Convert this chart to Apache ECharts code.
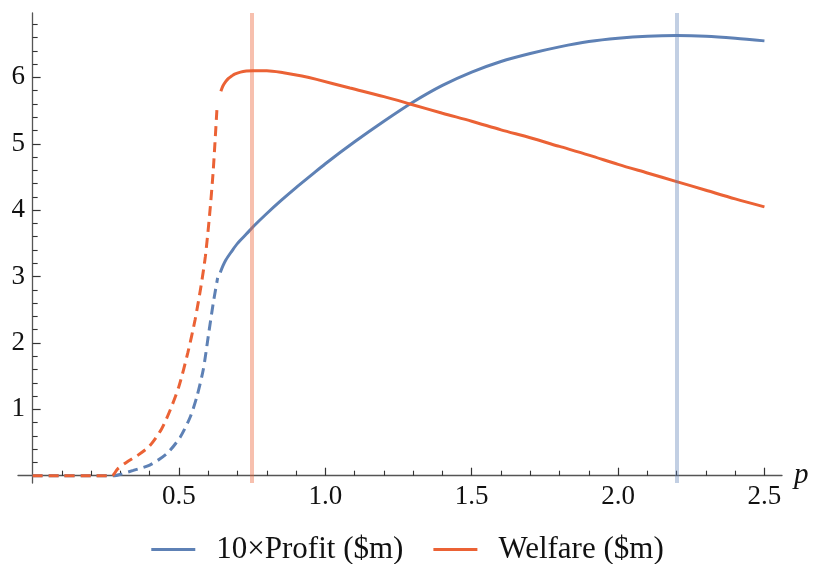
<!DOCTYPE html>
<html>
<head>
<meta charset="utf-8">
<script src="https://cdn.jsdelivr.net/npm/echarts@6/dist/echarts.min.js"></script>
<style>
  html, body { margin: 0; padding: 0; background: #fff; }
  #chart { width: 815px; height: 564px; }
</style>
</head>
<body>
<div id="chart"></div>
<script>
// p values and curves
const profitDashed = [
  [0, 0], [0.1, 0], [0.2, 0], [0.28, 0], [0.3, 0.02], [0.344, 0.08], [0.40, 0.16],
  [0.458, 0.33], [0.504, 0.58], [0.538, 0.88], [0.561, 1.19], [0.583, 1.6],
  [0.60, 2.1], [0.617, 2.6], [0.632, 2.98]
]
const profitSolid = [
  [0.641, 3.06], [0.65, 3.16], [0.66, 3.25], [0.68, 3.38], [0.70, 3.5], [0.73, 3.64],
  [0.76, 3.78], [0.80, 3.95], [0.85, 4.15], [0.90, 4.34], [0.95, 4.52], [1.0, 4.7],
  [1.1, 5.03], [1.2, 5.34], [1.3, 5.63], [1.4, 5.88], [1.5, 6.08], [1.6, 6.24],
  [1.7, 6.36], [1.8, 6.46], [1.9, 6.54], [2.0, 6.59], [2.1, 6.62], [2.2, 6.63],
  [2.3, 6.62], [2.4, 6.59], [2.5, 6.55]
]
const welfareDashed = [
  [0, 0], [0.1, 0], [0.2, 0], [0.271, 0], [0.29, 0.1], [0.32, 0.2], [0.36, 0.31],
  [0.40, 0.45], [0.44, 0.7], [0.47, 0.99], [0.50, 1.35], [0.53, 1.85], [0.555, 2.35],
  [0.575, 2.85], [0.59, 3.3], [0.605, 3.95], [0.617, 4.6], [0.63, 5.55]
]
const welfareSolid = [
  [0.643, 5.79], [0.65, 5.87], [0.66, 5.94], [0.67, 5.99], [0.68, 6.02], [0.69, 6.05],
  [0.71, 6.08], [0.73, 6.095], [0.754, 6.1], [0.8, 6.1], [0.857, 6.07], [0.92, 6.02],
  [0.97, 5.97], [1.084, 5.84], [1.2, 5.71], [1.289, 5.6], [1.4, 5.46], [1.5, 5.34],
  [1.6, 5.21], [1.7, 5.09], [1.8, 4.96], [1.9, 4.83], [2.0, 4.69], [2.1, 4.56],
  [2.2, 4.43], [2.3, 4.3], [2.4, 4.17], [2.5, 4.05]
]
const welfareBest = 0.75
const profitBest = 2.2

const xLabels = [0.5, 1.0, 1.5, 2.0, 2.5]
const xMinor = [0.1, 0.2, 0.3, 0.4, 0.6, 0.7, 0.8, 0.9, 1.1, 1.2, 1.3, 1.4, 1.6, 1.7, 1.8, 1.9, 2.1, 2.2, 2.3, 2.4]
const yLabels = [1, 2, 3, 4, 5, 6]
const yMinor = [0.2, 0.4, 0.6, 0.8, 1.2, 1.4, 1.6, 1.8, 2.2, 2.4, 2.6, 2.8, 3.2, 3.4, 3.6, 3.8,
  4.2, 4.4, 4.6, 4.8, 5.2, 5.4, 5.6, 5.8, 6.2, 6.4, 6.6, 6.8]

const BLUE = '#5E81B5'
const ORANGE = '#EB6235'
const FONT = 'Liberation Serif'
const AXIS = '#555'

const xRange = { min: -0.05, max: 2.56 }
const yRange = { min: -0.11, max: 6.97 }

const chart = echarts.init(document.getElementById('chart'))

chart.setOption({
  animation: false,
  grid: { left: 18, right: 33, top: 13, bottom: 81, containLabel: false, outerBoundsMode: 'none' },
  legend: {
    top: 529,
    left: 'center',
    icon: 'rect',
    itemWidth: 44,
    itemHeight: 3,
    itemGap: 30,
    data: ['10×Profit ($m)', 'Welfare ($m)'],
    textStyle: { fontFamily: FONT, fontSize: 31, color: '#111', padding: [0, 0, 0, 16] }
  },
  xAxis: [
    {
      type: 'value', ...xRange,
      name: 'p',
      nameLocation: 'end',
      nameGap: 12,
      nameTextStyle: { fontFamily: FONT, fontStyle: 'italic', fontSize: 29, color: '#111', verticalAlign: 'middle' },
      axisLine: { onZero: true, lineStyle: { color: AXIS, width: 1.3 } },
      axisTick: { inside: true, length: 8, customValues: xLabels, lineStyle: { color: '#333', width: 1.2 } },
      axisLabel: {
        // labels sit at the grid edge, not at the zero line
        customValues: xLabels, margin: 0,
        fontFamily: FONT, fontSize: 27, color: '#111',
        formatter: v => v.toFixed(1)
      },
      splitLine: { show: false }
    },
    {
      type: 'value', ...xRange,
      position: 'bottom',
      axisLine: { show: false, onZero: true, onZeroAxisIndex: 0 },
      axisTick: { inside: true, length: 5, customValues: xMinor, lineStyle: { color: '#333', width: 1.1 } },
      axisLabel: { show: false },
      splitLine: { show: false }
    }
  ],
  yAxis: [
    {
      type: 'value', ...yRange,
      axisLine: { show: true, onZero: true, lineStyle: { color: AXIS, width: 1.3 } },
      axisTick: { show: true, inside: true, length: 8, customValues: yLabels, lineStyle: { color: '#333', width: 1.2 } },
      axisLabel: {
        customValues: yLabels, margin: -7,
        fontFamily: FONT, fontSize: 27, color: '#111'
      },
      splitLine: { show: false }
    },
    {
      type: 'value', ...yRange,
      position: 'left',
      axisLine: { show: false, onZero: true, onZeroAxisIndex: 0 },
      axisTick: { show: true, inside: true, length: 5, customValues: yMinor, lineStyle: { color: '#333', width: 1.1 } },
      axisLabel: { show: false },
      splitLine: { show: false }
    }
  ],
  series: [
    {
      name: '10×Profit ($m)',
      type: 'line',
      data: profitSolid,
      showSymbol: false,
      smooth: 0.3,
      color: BLUE,
      lineStyle: { width: 3, color: BLUE },
      z: 3,
      markLine: {
        silent: true,
        symbol: 'none',
        label: { show: false },
        lineStyle: { type: 'solid', width: 4, color: 'rgba(94,129,181,0.38)' },
        data: [{ xAxis: profitBest }]
      }
    },
    {
      name: 'Welfare ($m)',
      type: 'line',
      data: welfareSolid,
      showSymbol: false,
      smooth: 0.3,
      color: ORANGE,
      lineStyle: { width: 3, color: ORANGE },
      z: 3,
      markLine: {
        silent: true,
        symbol: 'none',
        label: { show: false },
        lineStyle: { type: 'solid', width: 4, color: 'rgba(235,98,53,0.4)' },
        data: [{ xAxis: welfareBest }]
      }
    },
    {
      name: 'profit-dashed',
      type: 'line',
      data: profitDashed,
      showSymbol: false,
      smooth: 0.25,
      color: BLUE,
      lineStyle: { width: 3, color: BLUE, type: [10, 6] },
      z: 3
    },
    {
      name: 'welfare-dashed',
      type: 'line',
      data: welfareDashed,
      showSymbol: false,
      smooth: 0.25,
      color: ORANGE,
      lineStyle: { width: 3, color: ORANGE, type: [10, 6] },
      z: 3
    }
  ]
})
</script>
</body>
</html>
